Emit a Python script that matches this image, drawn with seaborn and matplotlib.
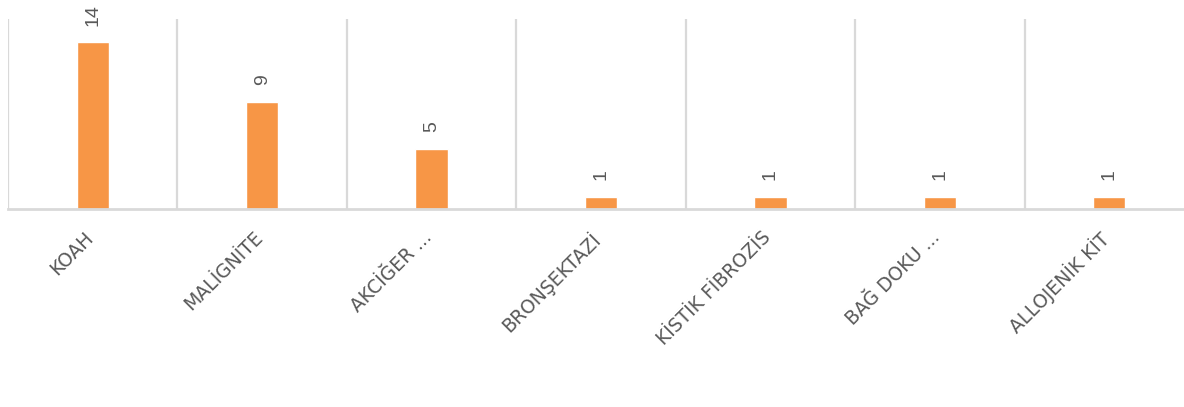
import matplotlib
matplotlib.use("Agg")
import matplotlib.pyplot as plt
import matplotlib.transforms as mtransforms
import seaborn as sns
import pandas as pd

categories = ["KOAH", "MALİGNİTE", "AKCİĞER ...", "BRONŞEKTAZİ",
              "KİSTİK FİBROZİS", "BAĞ DOKU ...", "ALLOJENİK KİT"]
counts = [14, 9, 5, 1, 1, 1, 1]

sns.set_theme(style="white")
plt.rcParams["font.family"] = ["DejaVu Sans"]

BAR = "#F79646"
TEXT = "#595959"
GRID = "#D9D9D9"

df = pd.DataFrame({"category": categories, "count": counts})

fig = plt.figure(figsize=(11.84, 4.07), dpi=100)
W, H = 1184, 407
left, right, top, bottom = 8, 1194, 18.5, 208.5
ax = fig.add_axes([left / W, (H - bottom) / H, (right - left) / W, (bottom - top) / H])

sns.barplot(data=df, x="category", y="count", color=BAR, width=0.19,
            saturation=1, ax=ax)

ax.set_xlim(-0.5, len(categories) - 0.5)
ax.set_ylim(0, 16)

# category separators
for b in range(len(categories)):
    ax.axvline(b - 0.5, color=GRID, lw=1.6, zorder=0)

for s in ["left", "right", "top"]:
    ax.spines[s].set_visible(False)
ax.spines["bottom"].set_color(GRID)
ax.spines["bottom"].set_linewidth(2.0)

ax.set_yticks([])
ax.set_xlabel("")
ax.set_ylabel("")
ax.tick_params(axis="x", length=0, pad=14)
ax.set_xticks(range(len(categories)))
ax.set_xticklabels(categories, rotation=45, ha="right", va="top",
                   fontsize=13.5, color=TEXT)
shift = mtransforms.ScaledTranslation(4 / 100, 0, fig.dpi_scale_trans)
for t in ax.get_xticklabels():
    t.set_transform(t.get_transform() + shift)

for cont in ax.containers:
    ax.bar_label(cont, labels=[str(v) for v in counts], rotation=90,
                 padding=12, fontsize=14, color=TEXT,
                 family=["Liberation Sans", "DejaVu Sans"])

fig.savefig("out.png", dpi=100)
